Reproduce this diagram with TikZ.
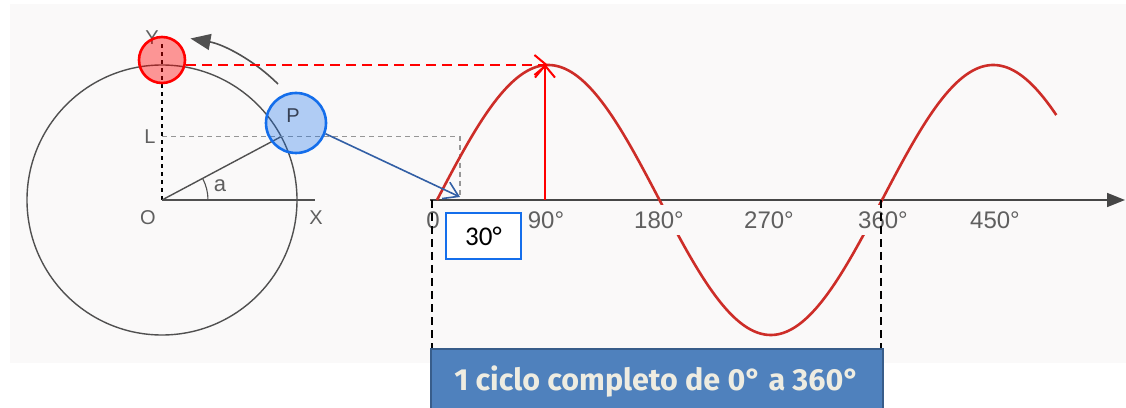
\documentclass[tikz,border=0pt]{standalone}
\usepackage{fontspec}
\setmainfont{Liberation Sans}
\newfontfamily\boxfont{Carlito}
\newfontfamily\banfont{Fira Sans}
\usetikzlibrary{arrows.meta}
\definecolor{bgc}{RGB}{250,249,249}
\definecolor{lblgray}{RGB}{95,95,95}
\definecolor{sinered}{RGB}{205,45,40}
\definecolor{pblue}{RGB}{20,110,235}
\definecolor{arrblue}{RGB}{50,95,165}
\definecolor{banblue}{RGB}{79,129,189}
\definecolor{banedge}{RGB}{56,93,138}
\definecolor{cream}{RGB}{238,236,225}
\tikzset{
  lbl/.style={text=lblgray, inner sep=1pt, font=\fontsize{20}{22}\selectfont},
  axlbl/.style={text=lblgray, fill=bgc, inner xsep=1pt, inner ysep=7pt, font=\fontsize{24}{26}\selectfont},
  geo/.style={draw={rgb,255:red,80;green,80;blue,80}, line width=1.4pt},
  graydash/.style={draw={rgb,255:red,150;green,150;blue,150}, line width=1.6pt, dash pattern=on 5pt off 4pt},
  blackdash/.style={draw=black, line width=1.8pt, dash pattern=on 8pt off 5pt},
  redarrow/.style={draw=red, line width=2pt, -{Straight Barb[length=12pt,width=20pt,line width=2pt]}},
}
\begin{document}
\begin{tikzpicture}[x=1pt,y=1pt]
\useasboundingbox (0,0) rectangle (1126,407);
\fill[bgc] (10,44) rectangle (1126,403);
% circle diagram
\coordinate (O) at (162,207);
\coordinate (Pt) at (281.2,270.4);
\coordinate (Ltop) at (162,270.4);
\coordinate (Yend) at (162,365);
\coordinate (Xend) at (315,207);
\draw[geo] (O) circle[radius=135pt];
\draw[black, line width=1.5pt, dash pattern=on 4pt off 4pt] (O) -- (Yend);
\draw[geo] (O) -- (Xend);
\draw[geo] (O) -- (Pt);
\draw[geo, line width=1.1pt] ([shift={(0:46pt)}]O) arc[start angle=0, end angle=28, radius=46pt];
\draw[geo, line width=1.6pt, -{Triangle[length=20pt,width=16pt]}] ([shift={(45:164pt)}]O) arc[start angle=45, end angle=80, radius=164pt];
\node[lbl] (ylab) at (152,369) {Y};
\node[lbl] (llab) at (150,270) {L};
\node[lbl] (olab) at (148,189) {O};
\node[lbl] (xlab) at (316,189) {X};
\node[lbl, font=\fontsize{22}{24}\selectfont] (alab) at (220,221) {a};
% dashed projection line
\coordinate (Lc) at (460,270.4);
\coordinate (Lb) at (460,209);
\draw[graydash] (Ltop) -- (Lc) -- (Lb);
% sine axis
\coordinate (ax0) at (430,207);
\coordinate (ax1) at (1125,207);
\draw[draw={rgb,255:red,70;green,70;blue,70}, line width=1.6pt, -{Triangle[length=18pt,width=14pt]}] (ax0) -- (ax1);
% sine curve
\draw[sinered, line width=2.6pt] plot[domain=0:501, samples=250, smooth] ({437+\x*1.23611},{207+135*sin(\x)});
% axis labels
\node[axlbl] (l0) at (433,187) {0};
\node[axlbl] (l90) at (546,187) {90°};
\node[axlbl] (l180) at (659,187) {180°};
\node[axlbl] (l270) at (769,187) {270°};
\node[axlbl] (l360) at (883,187) {360°};
\node[axlbl] (l450) at (995,187) {450°};
% red highlight
\node[circle, draw=red, line width=2.6pt, fill=red, fill opacity=0.4, draw opacity=1, minimum size=46pt, inner sep=0pt] (rc) at (162,347) {};
\coordinate (peak) at (548,342);
\coordinate (peakb) at (545,207);
\coordinate (peakt) at (545,343);
\draw[redarrow, dash pattern=on 10pt off 6pt] (rc.east |- 0,342) -- (peak);
\draw[redarrow] (peakb) -- (peakt);
% blue P
\node[circle, draw=pblue, line width=2.6pt, fill=pblue, fill opacity=0.32, text opacity=1, draw opacity=1, minimum size=60pt, inner sep=0pt] (pc) at (296,284) {};
\node[lbl, text={rgb,255:red,55;green,65;blue,85}] (plab) at (293,291) {P};
\coordinate (btip) at (460,210);
\draw[arrblue, line width=1.6pt, -{Straight Barb[length=14pt,width=18pt,line width=1.6pt]}] (pc.-20) -- (btip);
% dashed cycle bounds
\coordinate (d0t) at (432,207);
\coordinate (d0b) at (432,58);
\coordinate (d1t) at (881,207);
\coordinate (d1b) at (881,58);
\draw[blackdash] (d0t) -- (d0b);
\draw[blackdash] (d1t) -- (d1b);
% 30 degree box
\node[draw=pblue, line width=2pt, fill=white, minimum width=75pt, minimum height=46pt, inner sep=0pt, font=\boxfont\fontsize{27}{29}\selectfont] (box30) at (483.5,171) {30°};
% banner
\node[draw=banedge, line width=1.5pt, fill=banblue, minimum width=452pt, minimum height=66pt, inner sep=0pt, anchor=north west, text=cream, font=\banfont\bfseries\fontsize{30.5}{32}\selectfont] (ban) at (430,59) {1 ciclo completo de 0° a 360°};
\end{tikzpicture}
\end{document}
